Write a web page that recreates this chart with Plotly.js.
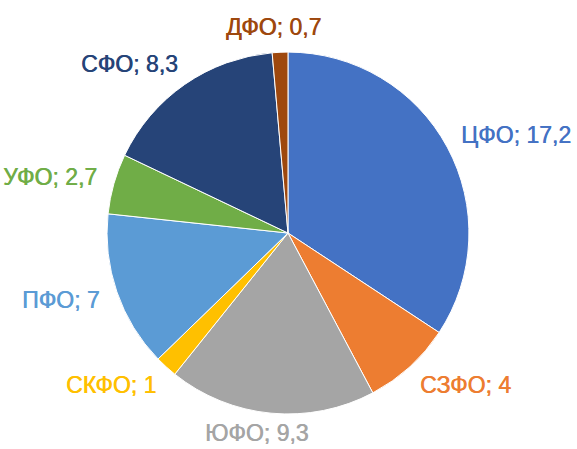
<!DOCTYPE html>
<html>
<head>
<meta charset="utf-8">
<script src="https://cdn.plot.ly/plotly-3.0.1.min.js"></script>
<style>html,body{margin:0;padding:0;background:#fff;}#chart{width:577px;height:449px;}</style>
</head>
<body>
<div id="chart"></div>
<script>
// Federal districts and their shares
const districts = ['ЦФО', 'СЗФО', 'ЮФО', 'СКФО', 'ПФО', 'УФО', 'СФО', 'ДФО'];
const shares = [17.2, 4, 9.3, 1, 7, 2.7, 8.3, 0.7];
const sliceColors = ['#4472C4', '#ED7D31', '#A5A5A5', '#FFC000', '#5B9BD5', '#70AD47', '#264478', '#9E480E'];

const W = 577, H = 449;
const pieDomain = { x: [0.1854, 0.8128], y: [0.078, 0.884] };
const labelFamily = 'Liberation Sans Narrow, Arial Narrow, sans-serif';
const labelSize = 23;
const labelRing = 25;      // how far past the rim the label anchors sit
const sideShift = 0.85;    // share of half the label width pushed away from the pie
const shiftRamp = 2.5;     // how quickly that push grows away from the vertical

// Pie geometry as Plotly lays it out: centre of the domain, radius = half the shorter side
const cx = W * (pieDomain.x[0] + pieDomain.x[1]) / 2;
const cy = H * (1 - (pieDomain.y[0] + pieDomain.y[1]) / 2);
const radius = Math.min(W * (pieDomain.x[1] - pieDomain.x[0]), H * (pieDomain.y[1] - pieDomain.y[0])) / 2;

const fmt = v => String(v).replace('.', ',');
const labelTexts = districts.map((d, i) => d + '; ' + fmt(shares[i]));

// Text widths, so each label clears the rim along its slice's bisector
const ctx = document.createElement('canvas').getContext('2d');
ctx.font = labelSize + 'px "Liberation Sans Narrow", "Arial Narrow", sans-serif';

const halfLine = labelSize * 0.7;
const total = shares.reduce((a, b) => a + b, 0);
let cum = 0;
const annotations = shares.map((v, i) => {
  const theta = (cum + v / 2) / total * 2 * Math.PI;
  cum += v;
  const ux = Math.sin(theta), uy = -Math.cos(theta);
  const halfW = ctx.measureText(labelTexts[i]).width / 2;
  const R = radius + labelRing;
  let px = cx + R * ux + Math.sign(ux) * halfW * Math.min(sideShift, shiftRamp * Math.abs(ux));
  let py = cy + R * uy;
  // keep every label wholly on the page
  px = Math.min(Math.max(px, halfW + 2), W - halfW - 2);
  py = Math.min(Math.max(py, halfLine), H - halfLine);
  return {
    text: labelTexts[i],
    x: px / W, y: 1 - py / H,
    xref: 'paper', yref: 'paper',
    xanchor: 'center', yanchor: 'middle',
    showarrow: false,
    font: {
      family: labelFamily, size: labelSize, color: sliceColors[i],
      shadow: '0.6px 0 0 ' + sliceColors[i]
    }
  };
});

const trace = {
  type: 'pie',
  labels: districts,
  values: shares,
  sort: false,
  direction: 'clockwise',
  rotation: 0,
  marker: { colors: sliceColors, line: { color: '#ffffff', width: 1 } },
  textinfo: 'none',
  hoverinfo: 'none',
  domain: pieDomain
};

const layout = {
  width: W,
  height: H,
  margin: { l: 0, r: 0, t: 0, b: 0 },
  showlegend: false,
  paper_bgcolor: '#ffffff',
  annotations: annotations
};

Plotly.newPlot('chart', [trace], layout, { displayModeBar: false, staticPlot: true });
</script>
</body>
</html>
